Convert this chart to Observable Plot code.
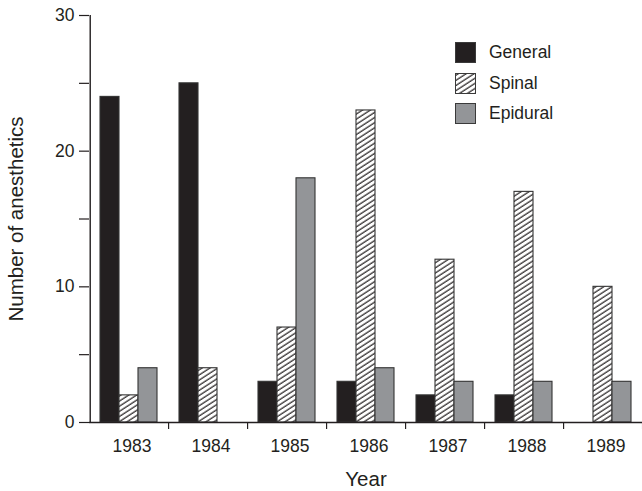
<!DOCTYPE html>
<html>
<head>
<meta charset="utf-8">
<script src="https://cdn.jsdelivr.net/npm/d3@7"></script>
<script src="https://cdn.jsdelivr.net/npm/@observablehq/plot@0.6"></script>
<style>
  html, body { margin: 0; padding: 0; background: #fff; }
  #wrap { position: relative; width: 642px; height: 491px; font-family: "Liberation Sans", Arial, sans-serif; color: #231f20; }
  #wrap svg.plot { font-family: "Liberation Sans", Arial, sans-serif; font-size: 17.5px; color: #231f20; }
  #wrap g[aria-label="fx-axis label"] text, #wrap g[aria-label="y-axis label"] text { font-size: 20.5px; }
  #legend { position: absolute; left: 455px; top: 42px; font-size: 17.5px; }
  #legend .row { display: flex; align-items: center; height: 21px; margin-bottom: 9.5px; }
  #legend .sw { width: 21px; height: 21px; box-sizing: border-box; border: 1.2px solid #3a3a3a; margin-right: 13px; }
</style>
</head>
<body>
<svg width="0" height="0" style="position:absolute">
  <defs>
    <pattern id="hatch" patternUnits="userSpaceOnUse" width="4.3" height="4.3" patternTransform="rotate(57)">
      <rect width="4.3" height="4.3" fill="#fff"></rect>
      <line x1="1" y1="-1" x2="1" y2="6" stroke="#231f20" stroke-width="1.2"></line>
    </pattern>
  </defs>
</svg>
<div id="wrap"></div>
<script>
// ---- data ----
const years = ["1983", "1984", "1985", "1986", "1987", "1988", "1989"];
const types = ["General", "Spinal", "Epidural"];
const general  = [24, 25, 3, 3, 2, 2, null];
const spinal   = [2, 4, 7, 23, 12, 17, 10];
const epidural = [4, null, 18, 4, 3, 3, 3];
const yMajorTicks = [0, 10, 20, 30];
const yMinorTicks = [5, 15, 25];
const xLabel = "Year";
const yLabel = "Number of anesthetics";

// ---- styles ----
const fills = { General: "#231f20", Spinal: "url(#hatch)", Epidural: "#939598" };
const ink = "#231f20";

const seriesValues = { General: general, Spinal: spinal, Epidural: epidural };
const table = [];
types.forEach(t => years.forEach((y, i) => {
  const v = seriesValues[t][i];
  if (v != null) table.push({ year: y, type: t, value: v });
}));

const W = 642, H = 491, mL = 88, mR = 0, mT = 15, mB = 69;
const xPadOuter = 0.5;
const facetW = (W - mL - mR) / years.length;
const halfFacet = facetW / 2;
const barStep = facetW / (types.length + 2 * xPadOuter);

const chart = Plot.plot({
  width: W, height: H,
  marginLeft: mL, marginRight: mR, marginTop: mT, marginBottom: mB,
  fx: { domain: years, padding: 0, paddingInner: 0, paddingOuter: 0 },
  x: { domain: types, paddingInner: 0, paddingOuter: xPadOuter, axis: null },
  y: { domain: [0, 30] },
  marks: [
    ...types.map(t => Plot.barY(table.filter(d => d.type === t), {
      fx: "year", x: "type", y: "value",
      fill: fills[t], stroke: "#333", strokeWidth: 1.1, inset: 0
    })),
    Plot.ruleY([0], { stroke: ink, strokeWidth: 1.4 }),
    // y-axis line, at the left edge of the first facet
    Plot.ruleX([{ fx: years[0], x: types[0] }], { fx: "fx", x: "x", y1: 0, y2: 30,
      dx: -(xPadOuter + 0.5) * barStep, stroke: ink, strokeWidth: 1.4 }),
    Plot.axisY({ ticks: yMajorTicks, tickSize: 10, tickPadding: 5, stroke: ink, strokeWidth: 1.2,
      label: yLabel, labelAnchor: "center", labelOffset: 81, labelArrow: "none" }),
    Plot.axisY({ ticks: yMinorTicks, tickSize: 10, tickFormat: () => "", stroke: ink, strokeWidth: 1.2, label: null }),
    Plot.axisFx({ anchor: "bottom", tickSize: 0, tickPadding: 17, dx: 3, tickFormat: d => `${d}`,
      label: null }),
    Plot.axisFx({ anchor: "bottom", tickSize: 0, tickFormat: () => "", dx: 4,
      label: xLabel, labelAnchor: "center", labelOffset: 63, labelArrow: "none" }),
    Plot.axisFx({ anchor: "bottom", tickSize: 7, tickFormat: () => "", dx: halfFacet, stroke: ink, strokeWidth: 1.2, label: null })
  ]
});
chart.classList.add("plot");
document.getElementById("wrap").appendChild(chart);

// legend
const legend = document.createElement("div");
legend.id = "legend";
types.forEach(t => {
  const row = document.createElement("div");
  row.className = "row";
  const sw = document.createElement("div");
  sw.className = "sw";
  if (t === "Spinal") {
    sw.innerHTML = '<svg width="19" height="19" style="display:block"><rect width="19" height="19" fill="url(#hatch)"></rect></svg>';
  } else {
    sw.style.background = fills[t];
  }
  const lab = document.createElement("span");
  lab.textContent = t;
  row.appendChild(sw); row.appendChild(lab);
  legend.appendChild(row);
});
document.getElementById("wrap").appendChild(legend);
</script>
</body>
</html>
